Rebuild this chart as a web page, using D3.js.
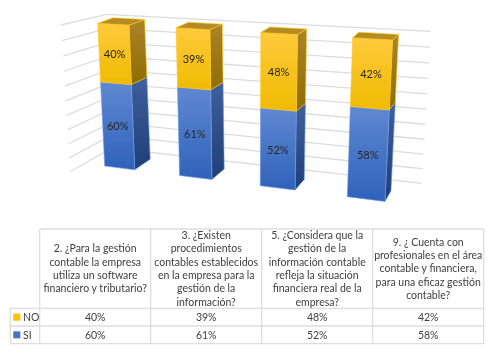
<!DOCTYPE html>
<html>
<head>
<meta charset="utf-8">
<script src="https://cdn.jsdelivr.net/npm/d3@7"></script>
<style>
html, body { margin: 0; padding: 0; background: #fff; }
svg { display: block; }
text { font-family: Lato, "Open Sans", sans-serif; fill: #404040; }
</style>
</head>
<body>
<svg id="chart" width="495" height="356"></svg>
<script>
// Data
const categories = [
    ["2. ¿Para la gestión", "contable la empresa", "utiliza un software", "financiero y tributario?"],
    ["3. ¿Existen", "procedimientos", "contables establecidos", "en la empresa para la", "gestión de la", "información?"],
    ["5. ¿Considera que la", "gestión de la", "información contable", "refleja la situación", "financiera real de la", "empresa?"],
    ["9. ¿ Cuenta con", "profesionales en el área", "contable y financiera,", "para una eficaz gestión", "contable?"]
];
const siValues = [60, 61, 52, 58];
const noValues = [40, 39, 48, 42];
const seriesNames = ["NO", "SI"];

const svg = d3.select("#chart");
const defs = svg.append("defs");
defs.append("filter").attr("id", "soft")
    .attr("filterUnits", "userSpaceOnUse")
    .attr("x", 0).attr("y", 0)
    .attr("width", 495).attr("height", 356)
    .append("feGaussianBlur").attr("stdDeviation", 0.5);

const root = svg.append("g").attr("filter", "url(#soft)");

// Maps the unit square onto a four-corner quad, this is what gives the 3D look
function quadProjector(p0, p1, p2, p3) {
    const dx1 = p1[0] - p2[0], dx2 = p3[0] - p2[0], sx = p0[0] - p1[0] + p2[0] - p3[0];
    const dy1 = p1[1] - p2[1], dy2 = p3[1] - p2[1], sy = p0[1] - p1[1] + p2[1] - p3[1];
    const det = dx1 * dy2 - dx2 * dy1;
    const g = (sx * dy2 - dx2 * sy) / det;
    const h = (dx1 * sy - sx * dy1) / det;
    const a = p1[0] - p0[0] + g * p1[0], b = p3[0] - p0[0] + h * p3[0];
    const d = p1[1] - p0[1] + g * p1[1], e = p3[1] - p0[1] + h * p3[1];
    return (u, v) => {
        const w = g * u + h * v + 1;
        return [(a * u + b * v + p0[0]) / w, (d * u + e * v + p0[1]) / w];
    };
}

// Plane through the front of the bars, and the two walls behind them
const front = quadProjector([104.7, 166], [347.3, 196.7], [352.7, 37.7], [97.7, 23.3]);
const backWall = quadProjector([112, 148], [421.7, 183.3], [431, 31.3], [106.7, 14.3]);
const sideWall = quadProjector([70, 171.7], [112, 148], [106.7, 14.3], [61, 25]);

const uScale = d3.scalePoint().domain(d3.range(categories.length)).range([0, 1]);
const vScale = d3.scaleLinear().domain([0, 100]).range([0, 1]);
const barDepthU = 0.1364; // bar width on the front plane
const depthX = d3.scaleLinear().domain([0, 1]).range([15.5, 6]);
const depthY = d3.scaleLinear().domain([0, 1]).range([-10.5, -5.5]);

// Gridlines on the walls
const gridTicks = vScale.ticks(10);
const gridLine = d3.line();
root.append("g").selectAll("path")
    .data(gridTicks)
    .join("path")
    .attr("d", t => gridLine([sideWall(0, vScale(t)), sideWall(1, vScale(t)), backWall(1, vScale(t))]))
    .attr("fill", "none")
    .attr("stroke", "#dcdcdc")
    .attr("stroke-width", 1.3);

// Face gradients
const gradients = {
    noFront: ["#ffca3c", "#efba00"],
    noSide: ["#ab8429", "#8f6c00"],
    siFront: ["#6088d2", "#2f62ba"],
    siSide: ["#3e5f9c", "#1e3f78"]
};
Object.entries(gradients).forEach(([id, stops]) => {
    const lg = defs.append("linearGradient").attr("id", id)
        .attr("x1", 0).attr("y1", 0).attr("x2", 0).attr("y2", 1);
    lg.append("stop").attr("offset", 0).attr("stop-color", stops[0]);
    lg.append("stop").attr("offset", 1).attr("stop-color", stops[1]);
});

// Stack the two series
const rows = categories.map((c, i) => ({ i: i, SI: siValues[i], NO: noValues[i] }));
const stacked = d3.stack().keys(["SI", "NO"])(rows);
const edgeColor = { SI: "#6f9ae2", NO: "#ffc81e" };
const faceId = { SI: "si", NO: "no" };

function poly(pts) {
    return "M" + pts.map(p => p.map(n => n.toFixed(2)).join(",")).join("L") + "Z";
}
function back(i, p, value) {
    return [p[0] + depthX(uScale(i)), p[1] + depthY(vScale(value))];
}

const barGroups = root.append("g").selectAll("g")
    .data(d3.range(categories.length))
    .join("g");

barGroups.each(function(i) {
    const g = d3.select(this);
    const u0 = uScale(i), u1 = u0 + barDepthU;
    stacked.forEach(layer => {
        const [v0, v1] = layer[i];
        const bl = front(u0, vScale(v0)), br = front(u1, vScale(v0));
        const tl = front(u0, vScale(v1)), tr = front(u1, vScale(v1));
        const id = faceId[layer.key];
        g.append("path")
            .attr("d", poly([br, back(i, br, v0), back(i, tr, v1), tr]))
            .attr("fill", `url(#${id}Side)`)
            .attr("stroke", edgeColor[layer.key]).attr("stroke-width", 0.6);
        g.append("path")
            .attr("d", poly([bl, br, tr, tl]))
            .attr("fill", `url(#${id}Front)`)
            .attr("stroke", edgeColor[layer.key]).attr("stroke-width", 0.6);
        if (layer.key === "NO") {
            g.append("path")
                .attr("d", poly([tl, tr, back(i, tr, v1), back(i, tl, v1)]))
                .attr("fill", "#b48c22")
                .attr("stroke", edgeColor.NO).attr("stroke-width", 0.6);
        }
        const c = front(u0 + barDepthU / 2, vScale((v0 + v1) / 2));
        g.append("text")
            .attr("x", c[0]).attr("y", c[1] + 1.5)
            .attr("text-anchor", "middle").attr("dominant-baseline", "middle")
            .style("font-size", "11px")
            .style("fill", "#262626")
            .text(`${v1 - v0}%`);
    });
});

// Data table under the chart
const colScale = d3.scaleBand().domain(d3.range(categories.length)).range([39.7, 483.7]);
const rowEdges = [229, 308.3, 326, 343.7];
const labelLeft = 10.3;
const textShift = 1;
const table = root.append("g");
const lineColor = "#dedede";

function tableLine(x1, y1, x2, y2) {
    table.append("line").attr("x1", x1).attr("y1", y1).attr("x2", x2).attr("y2", y2)
        .attr("stroke", lineColor).attr("stroke-width", 1.3);
}
tableLine(colScale(0), rowEdges[0], colScale.range()[1], rowEdges[0]);
rowEdges.slice(1).forEach(y => tableLine(labelLeft, y, colScale.range()[1], y));
tableLine(labelLeft, rowEdges[1], labelLeft, rowEdges[3]);
colScale.domain().forEach(i => tableLine(colScale(i), rowEdges[0], colScale(i), rowEdges[3]));
tableLine(colScale.range()[1], rowEdges[0], colScale.range()[1], rowEdges[3]);

// Header cells
const lineHeight = 13.3;
categories.forEach((lines, i) => {
    const cx = colScale(i) + colScale.bandwidth() / 2;
    const cy = (rowEdges[0] + rowEdges[1]) / 2;
    lines.forEach((line, k) => {
        table.append("text")
            .attr("x", cx)
            .attr("y", cy + textShift + (k - (lines.length - 1) / 2) * lineHeight)
            .attr("text-anchor", "middle").attr("dominant-baseline", "middle")
            .style("font-size", "10.5px")
            .text(line);
    });
});

// Value rows with the legend keys
const rowValues = [noValues, siValues];
const keyColors = ["#ffc000", "#4472c4"];
seriesNames.forEach((name, r) => {
    const cy = (rowEdges[r + 1] + rowEdges[r + 2]) / 2;
    table.append("rect")
        .attr("x", 13.3).attr("y", cy - 3.5)
        .attr("width", 7).attr("height", 7)
        .attr("fill", keyColors[r]);
    table.append("text")
        .attr("x", 23).attr("y", cy + textShift)
        .attr("dominant-baseline", "middle")
        .style("font-size", "10.5px")
        .text(name);
    rowValues[r].forEach((v, i) => {
        table.append("text")
            .attr("x", colScale(i) + colScale.bandwidth() / 2).attr("y", cy + textShift)
            .attr("text-anchor", "middle").attr("dominant-baseline", "middle")
            .style("font-size", "10.5px")
            .text(`${v}%`);
    });
});
</script>
</body>
</html>
